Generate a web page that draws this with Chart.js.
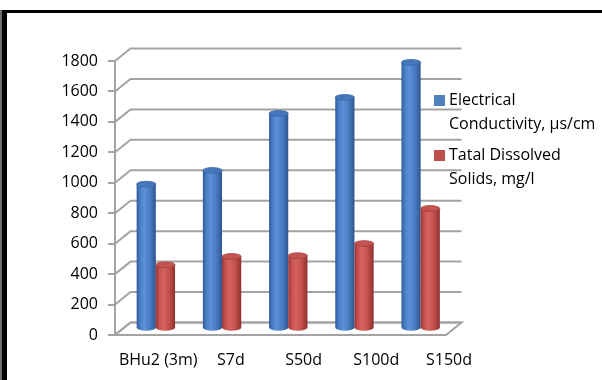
<!DOCTYPE html>
<html>
<head>
<meta charset="utf-8">
<script src="https://cdn.jsdelivr.net/npm/chart.js@4"></script>
<style>
  html, body { margin: 0; padding: 0; background: #fff; }
  #wrap { width: 602px; height: 380px; }
</style>
</head>
<body>
<div id="wrap"><canvas id="c" width="602" height="380"></canvas></div>
<script>
// Sample sites and measured values
const categories = ['BHu2 (3m)', 'S7d', 'S50d', 'S100d', 'S150d'];
const conductivity = [950, 1040, 1415, 1520, 1750];
const dissolvedSolids = [420, 475, 480, 560, 790];
const seriesNames = [
  ['Electrical', 'Conductivity, µs/cm'],
  ['Tatal Dissolved', 'Solids, mg/l']
];
const yMin = 0, yMax = 1800, yStep = 200;

// 3D depth of the plot box (back wall offset)
const DEPTH_X = 15.5, DEPTH_Y = -12.5;
const GRID = '#a3a3a3';

const palettes = [
  {
    key: '#4f81bd',
    body: [[0, '#2f5c98'], [0.18, '#4a7ec6'], [0.4, '#5b92da'], [0.7, '#4a7bc1'], [1, '#2c5690']],
    cap: '#4677bd', rim: '#3a66a6'
  },
  {
    key: '#c0504d',
    body: [[0, '#9a3532'], [0.18, '#c4524f'], [0.4, '#d6635f'], [0.7, '#c14f4c'], [1, '#8f302d']],
    cap: '#c45450', rim: '#a63f3c'
  }
];

Chart.defaults.font.family = "'Open Sans', sans-serif";
Chart.defaults.font.size = 16;
Chart.defaults.color = '#000';

function drawCylinder(ctx, cx, top, bottom, w, pal) {
  const rx = w / 2, ry = w * 0.15;
  const l = cx - rx, r = cx + rx;
  const g = ctx.createLinearGradient(l, 0, r, 0);
  pal.body.forEach(([o, c]) => g.addColorStop(o, c));
  ctx.beginPath();
  ctx.moveTo(l, top);
  ctx.lineTo(l, bottom);
  ctx.ellipse(cx, bottom, rx, ry, 0, Math.PI, 0, true);
  ctx.lineTo(r, top);
  ctx.closePath();
  ctx.fillStyle = g;
  ctx.fill();
  ctx.beginPath();
  ctx.ellipse(cx, top, rx, ry, 0, 0, Math.PI * 2);
  ctx.fillStyle = pal.cap;
  ctx.fill();
  ctx.lineWidth = 0.8;
  ctx.strokeStyle = pal.rim;
  ctx.stroke();
}

// Page frame: heavy rule along the top and left edges
const framePlugin = {
  id: 'frame',
  beforeDraw(chart) {
    const ctx = chart.ctx;
    ctx.save();
    ctx.fillStyle = '#fff';
    ctx.fillRect(0, 0, chart.width, chart.height);
    ctx.fillStyle = '#6e6e6e';
    ctx.fillRect(0, 10, 2, chart.height - 10);
    ctx.fillStyle = '#000';
    ctx.fillRect(2, 10, 5, chart.height - 10);
    ctx.fillRect(2, 10, chart.width - 2, 3);
    ctx.restore();
  }
};

// Floor and back wall gridlines of the 3D box, cylinders for the bars
const wallsPlugin = {
  id: 'walls',
  beforeDatasetsDraw(chart) {
    const ctx = chart.ctx;
    const { left, right, bottom } = chart.chartArea;
    const ys = chart.scales.y;
    ctx.save();
    ctx.strokeStyle = GRID;
    ctx.lineWidth = 2;
    ctx.beginPath();
    ctx.moveTo(left, bottom);
    ctx.lineTo(right, bottom);
    ctx.lineTo(right + DEPTH_X, bottom + DEPTH_Y);
    ctx.lineTo(left + DEPTH_X, bottom + DEPTH_Y);
    ctx.closePath();
    ctx.fillStyle = '#fff';
    ctx.fill();
    ctx.stroke();
    ys.ticks.forEach(t => {
      const p = ys.getPixelForValue(t.value);
      ctx.beginPath();
      ctx.moveTo(left, p);
      ctx.lineTo(left + DEPTH_X, p + DEPTH_Y);
      ctx.lineTo(right + DEPTH_X, p + DEPTH_Y);
      ctx.stroke();
    });
    ctx.restore();
  },
  beforeDatasetDraw() {
    return false;
  },
  afterDatasetsDraw(chart) {
    const ctx = chart.ctx;
    ctx.save();
    chart.data.labels.forEach((_, i) => {
      chart.data.datasets.forEach((ds, di) => {
        const bar = chart.getDatasetMeta(di).data[i];
        const p = bar.getProps(['x', 'y', 'base', 'width'], true);
        drawCylinder(ctx, p.x + DEPTH_X / 2, p.y + DEPTH_Y / 2, p.base + DEPTH_Y / 2, p.width, palettes[di]);
      });
    });
    ctx.restore();
  }
};

// Legend to the right, labels wrapped over two lines
const legendPlugin = {
  id: 'sideLegend',
  afterDraw(chart) {
    const ctx = chart.ctx;
    const x0 = chart.chartArea.right - 12;
    let y = 95;
    ctx.save();
    ctx.font = "16px 'Open Sans', sans-serif";
    ctx.textBaseline = 'middle';
    seriesNames.forEach((lines, i) => {
      ctx.fillStyle = palettes[i].key;
      ctx.fillRect(x0, y, 11, 11);
      ctx.fillStyle = '#000';
      lines.forEach((line, k) => {
        ctx.fillText(line, x0 + 15, y + 5.5 + k * 24);
      });
      y += 55;
    });
    ctx.restore();
  }
};

new Chart(document.getElementById('c'), {
  type: 'bar',
  data: {
    labels: categories,
    datasets: [
      { label: seriesNames[0].join(' '), data: conductivity, backgroundColor: palettes[0].key },
      { label: seriesNames[1].join(' '), data: dissolvedSolids, backgroundColor: palettes[1].key }
    ]
  },
  options: {
    responsive: false,
    animation: false,
    devicePixelRatio: 1,
    layout: { padding: { left: 0, top: 61, right: 156, bottom: 0 } },
    datasets: { bar: { categoryPercentage: 0.58, barPercentage: 1 } },
    plugins: { legend: { display: false }, tooltip: { enabled: false } },
    scales: {
      x: { display: false },
      // category names along the front edge, spread in perspective
      xl: {
        type: 'linear',
        position: 'bottom',
        bounds: 'data',
        offset: false,
        min: -0.553,
        max: 4,
        grid: { display: false, drawTicks: false, offset: false },
        border: { display: false },
        afterBuildTicks(scale) { scale.ticks = categories.map((_, i) => ({ value: i })); },
        ticks: {
          padding: 16,
          labelOffset: 3,
          maxRotation: 0,
          autoSkip: false,
          callback: v => categories[v] ?? ''
        },
        afterFit(scale) { scale.height = 45; }
      },
      y: {
        min: yMin,
        max: yMax,
        ticks: { stepSize: yStep, padding: 10, callback: v => String(v) },
        grid: { drawOnChartArea: false, drawTicks: true, tickLength: 7, color: GRID, lineWidth: 2 },
        border: { display: true, color: GRID, width: 2 },
        afterFit(scale) { scale.width = 115; }
      }
    }
  },
  plugins: [framePlugin, wallsPlugin, legendPlugin]
});
</script>
</body>
</html>
